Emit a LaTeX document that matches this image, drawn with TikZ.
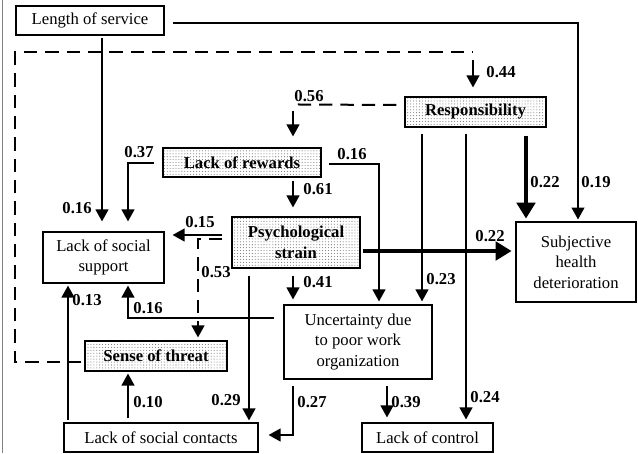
\documentclass[tikz,border=0pt]{standalone}
\usepackage{fontspec}
\setmainfont{Liberation Serif}
\usetikzlibrary{arrows.meta,calc,patterns.meta}
\begin{document}
\begin{tikzpicture}[x=0.75pt,y=-0.75pt,
  box/.style={draw, line width=0.8pt, inner sep=0pt, align=center, font=\fontsize{12.5}{15.5}\selectfont},
  shadebox/.style={box, pattern={Dots[distance=2.2pt,radius=0.4pt]}, pattern color=black!55, font=\bfseries\fontsize{12.5}{15.5}\selectfont},
  conn/.style={line width=1.5pt},
  arr/.style={conn, -{Triangle[length=9pt,width=9.5pt]}},
  thickarr/.style={line width=2.6pt, -{Triangle[length=12pt,width=14pt]}},
  dsh/.style={conn, dash pattern=on 10pt off 6pt},
  lbl/.style={inner sep=0pt, font=\bfseries\fontsize{12.5}{15}\selectfont}]
\useasboundingbox (0,0) rectangle (638,453);
\draw[gray, line width=0.75pt] (2,0) -- (2,453);

% nodes
\node[box, minimum width=111pt, minimum height=21.75pt] (los) at (90,20.5) {Length of service};
\node[shadebox, minimum width=105.75pt, minimum height=22.5pt] (resp) at (475.5,112) {Responsibility};
\node[shadebox, minimum width=118.5pt, minimum height=21.75pt] (lrew) at (242,162.5) {Lack of rewards};
\node[box, minimum width=90.75pt, minimum height=38.25pt] (lss) at (103.5,257.5) {Lack of social\\support};
\node[shadebox, minimum width=96pt, minimum height=38.25pt] (psy) at (296,242.5) {Psychological\\strain};
\node[box, line width=2.2pt, minimum width=90pt, minimum height=60pt] (shd) at (576,262) {Subjective\\health\\deterioration};
\node[box, minimum width=111pt, minimum height=55.5pt] (unc) at (358,342) {Uncertainty due\\to poor work\\organization};
\node[shadebox, minimum width=106.5pt, minimum height=22.5pt] (sot) at (156,356) {Sense of threat};
\node[box, minimum width=145.5pt, minimum height=21.75pt] (lsc) at (161,437.5) {Lack of social contacts};
\node[box, minimum width=98.25pt, minimum height=21.75pt] (lc) at (427.5,437.5) {Lack of control};

% connectors
\draw[arr] ($(los.east)+(8,2.5)$) -| ($(shd.north)+(2,-1)$);
\draw[arr] ($(los.south)+(12,2)$) -- ($(lss.north)+(-1.5,-10)$);
\draw[dsh] ($(sot.west)+(-3,6)$) -- ++(-66,0) |- ($(resp.north)+(-2.5,-44)$);
\draw[arr] ($(resp.north)+(-2.5,-36)$) -- ($(resp.north)+(-2.5,-9)$);
\draw[dsh] ($(resp.west)+(-8,-7)$) -- ($(lrew.north)+(51,-43)$);
\draw[arr] ($(lrew.north)+(51,-36)$) -- ($(lrew.north)+(51,-11)$);
\draw[arr] ($(lrew.west)+(-8,0.5)$) -| ($(lss.north)+(24.5,-10)$);
\draw[arr] ($(lrew.south)+(51,3)$) -- ($(psy.north)+(-3,-9)$);
\draw[arr] ($(lrew.east)+(7,1.5)$) -| ($(unc.north)+(21,-3)$);
\draw[arr] ($(psy.west)+(-9,-7.5)$) -- ($(lss.east)+(8,-22.5)$);
\draw[dsh,-{Triangle[length=9pt,width=9.5pt]}] ($(psy.west)+(-9,-3.5)$) -| ($(sot.north)+(42,-3)$);
\draw[thickarr] ($(psy.east)+(2,8.5)$) -- ($(shd.west)+(-3,-11)$);
\draw[arr] ($(psy.south)+(-3,7)$) -- ($(unc.north)+(-65,-5)$);
\draw[arr] ($(psy.south)+(-47,7)$) -- ($(lsc.north)+(88,-2)$);
\draw[arr] ($(unc.west)+(-9,-24)$) -| ($(lss.south)+(24.5,2)$);
\draw[arr] ($(lsc.north)+(-93,-2)$) -- ($(lss.south)+(-35.5,2)$);
\draw[arr] ($(lsc.north)+(-33,-4)$) -- ($(sot.south)+(-28,2)$);
\draw[arr] ($(unc.south)+(-65,6)$) |- ($(lsc.east)+(10,-2.5)$);
\draw[arr] ($(unc.south)+(29,6)$) -- ($(lc.north)+(-40.5,-5)$);
\draw[arr] ($(resp.south)+(-53.5,6)$) -- ($(unc.north)+(64,-3)$);
\draw[arr] ($(resp.south)+(-9.5,6)$) -- ($(lc.north)+(38.5,-3)$);
\draw[thickarr] ($(resp.south)+(50.5,8)$) -- ($(shd.north)+(-50,-2)$);

% labels
\node[lbl] (l1) at (596,182) {0.19};
\node[lbl] (l2) at (77,208) {0.16};
\node[lbl] (l3) at (501,72) {0.44};
\node[lbl] (l4) at (309,96) {0.56};
\node[lbl] (l5) at (139,152) {0.37};
\node[lbl] (l6) at (318,189) {0.61};
\node[lbl] (l7) at (352,154) {0.16};
\node[lbl] (l8) at (200,222) {0.15};
\node[lbl] (l9) at (216,272) {0.53};
\node[lbl] (l10) at (490,236) {0.22};
\node[lbl] (l11) at (318,282) {0.41};
\node[lbl] (l12) at (226,400) {0.29};
\node[lbl] (l13) at (148,308) {0.16};
\node[lbl] (l14) at (87,300) {0.13};
\node[lbl] (l15) at (148,402) {0.10};
\node[lbl] (l16) at (312,402) {0.27};
\node[lbl] (l17) at (406,402) {0.39};
\node[lbl] (l18) at (441,279) {0.23};
\node[lbl] (l19) at (485,397) {0.24};
\node[lbl] (l20) at (545,182) {0.22};
\end{tikzpicture}
\end{document}
